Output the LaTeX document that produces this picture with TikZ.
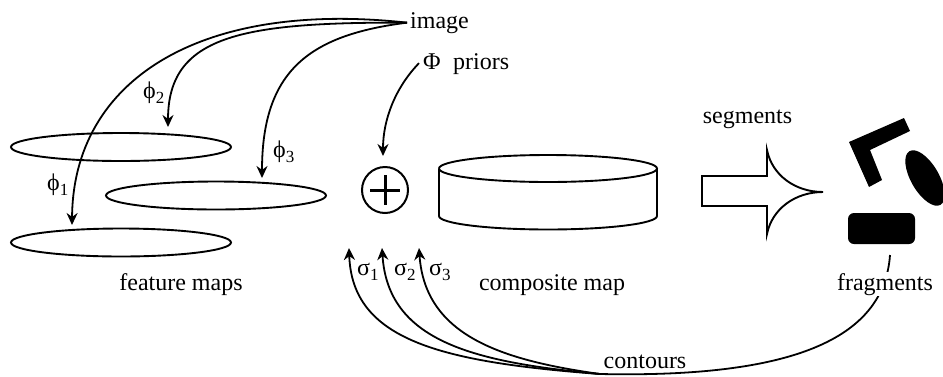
\documentclass[tikz,border=0pt]{standalone}
\usepackage{fontspec}
\setmainfont{Liberation Serif}
\usetikzlibrary{arrows.meta, shapes.geometric}
\tikzset{
  lbl/.style={inner sep=3pt, font=\fontsize{24}{28}\selectfont},
  flatmap/.style={draw, ellipse, line width=1.9pt, minimum width=220pt, minimum height=28pt, inner sep=0pt},
  link/.style={line width=1.8pt, -{Stealth[length=12pt,width=11pt]}},
  plainline/.style={line width=1.8pt},
  solidpart/.style={fill=black, draw=none}
}
\newcommand{\fsub}[2]{#1\raisebox{-5pt}{\fontsize{17}{19}\selectfont #2}}
\begin{document}
\begin{tikzpicture}[x=1pt, y=-1pt]
  \useasboundingbox (0,0) rectangle (943,376);

  % 1. feature maps
  \node[flatmap] (mapa) at (121,147) {};
  \node[flatmap] (mapb) at (216,195.5) {};
  \node[flatmap] (mapc) at (121,242.5) {};

  % 2. sum sign
  \node[draw, circle, line width=2pt, minimum size=46pt, inner sep=0pt] (sum) at (385,190) {};
  \draw[line width=3pt] (370,190) -- (400,190) (385,175) -- (385,205);

  % 3. composite map
  \draw[line width=1.9pt] (439,168.5) arc[start angle=180, end angle=-180, x radius=109, y radius=13.5];
  \draw[line width=1.9pt] (439,168.5) -- (439,216) arc[start angle=180, end angle=0, x radius=109, y radius=13.5] -- (657,168.5);

  % 4. segments arrow
  \draw[line width=1.9pt] (702,176) -- (767,176) -- (767,150)
    .. controls (772,175) and (795,192) .. (823,192)
    .. controls (795,192) and (772,209) .. (767,234)
    -- (767,206) -- (702,206) -- cycle;

  % 5. fragments
  \fill[solidpart] (849,142) -- (904,118) -- (910,131) -- (870,150) -- (882,180) -- (869,187) -- cycle;
  \fill[solidpart, shift={(925,178)}, rotate=-60] (0,0) ellipse [x radius=31, y radius=14];
  \node[solidpart, rounded corners=6pt, minimum width=67pt, minimum height=31pt, inner sep=0pt] (frag) at (881.5,228.5) {};

  % 6. labels
  \node[lbl, anchor=base west] (image) at (407,28) {image};
  \node[lbl, anchor=base west] (phibig) at (420,69) {Φ};
  \node[lbl, anchor=base west] (priors) at (450,69) {priors};
  \node[lbl, anchor=base] (featlbl) at (181,290) {feature maps};
  \node[lbl, anchor=base] (complbl) at (552,290) {composite map};
  \node[lbl, anchor=base] (seglbl) at (747.5,123) {segments};
  \node[lbl, anchor=base west] (phia) at (44,190) {\fsub{ϕ}{1}};
  \node[lbl, anchor=base west] (phib) at (140,98) {\fsub{ϕ}{2}};
  \node[lbl, anchor=base west] (phic) at (270,157) {\fsub{ϕ}{3}};
  \node[lbl, anchor=base west] (siga) at (354,275) {\fsub{σ}{1}};
  \node[lbl, anchor=base west] (sigb) at (391,275) {\fsub{σ}{2}};
  \node[lbl, anchor=base west] (sigc) at (426,275) {\fsub{σ}{3}};

  % 7. arrow ends
  \coordinate (enda) at (72,225);
  \coordinate (endb) at (168,127);
  \coordinate (endc) at (262,178);
  \coordinate (endsum) at (383,156);
  \coordinate (ups) at (349,248);
  \coordinate (upt) at (382,248);
  \coordinate (upu) at (419,248);
  \coordinate (meet) at (600,374);
  \coordinate (fragfoot) at (890,255);

  % 8. arrows from the image
  \draw[link] (image.west) .. controls (200,0) and (73,80) .. (enda);
  \draw[link] (image.west) .. controls (240,22) and (168,36) .. (endb);
  \draw[link] (image.west) .. controls (310,35) and (262,70) .. (endc);
  \draw[link] (phibig.west) ++(-1,2) .. controls (395,88) and (383,120) .. (endsum);

  % 9. arrows from the contours
  \draw[link] (meet) .. controls (440,362) and (352,340) .. (ups);
  \draw[link] (meet) .. controls (470,362) and (388,340) .. (upt);
  \draw[link] (meet) .. controls (500,360) and (425,335) .. (upu);
  \draw[plainline] (fragfoot) .. controls (884,340) and (790,378) .. (meet);

  % 10. these labels break the line
  \node[lbl, anchor=base, fill=white, inner sep=1pt] (contlbl) at (645,368) {contours};
  \node[lbl, anchor=base, fill=white, inner sep=1pt] (fraglbl) at (885,290) {fragments};
\end{tikzpicture}
\end{document}
